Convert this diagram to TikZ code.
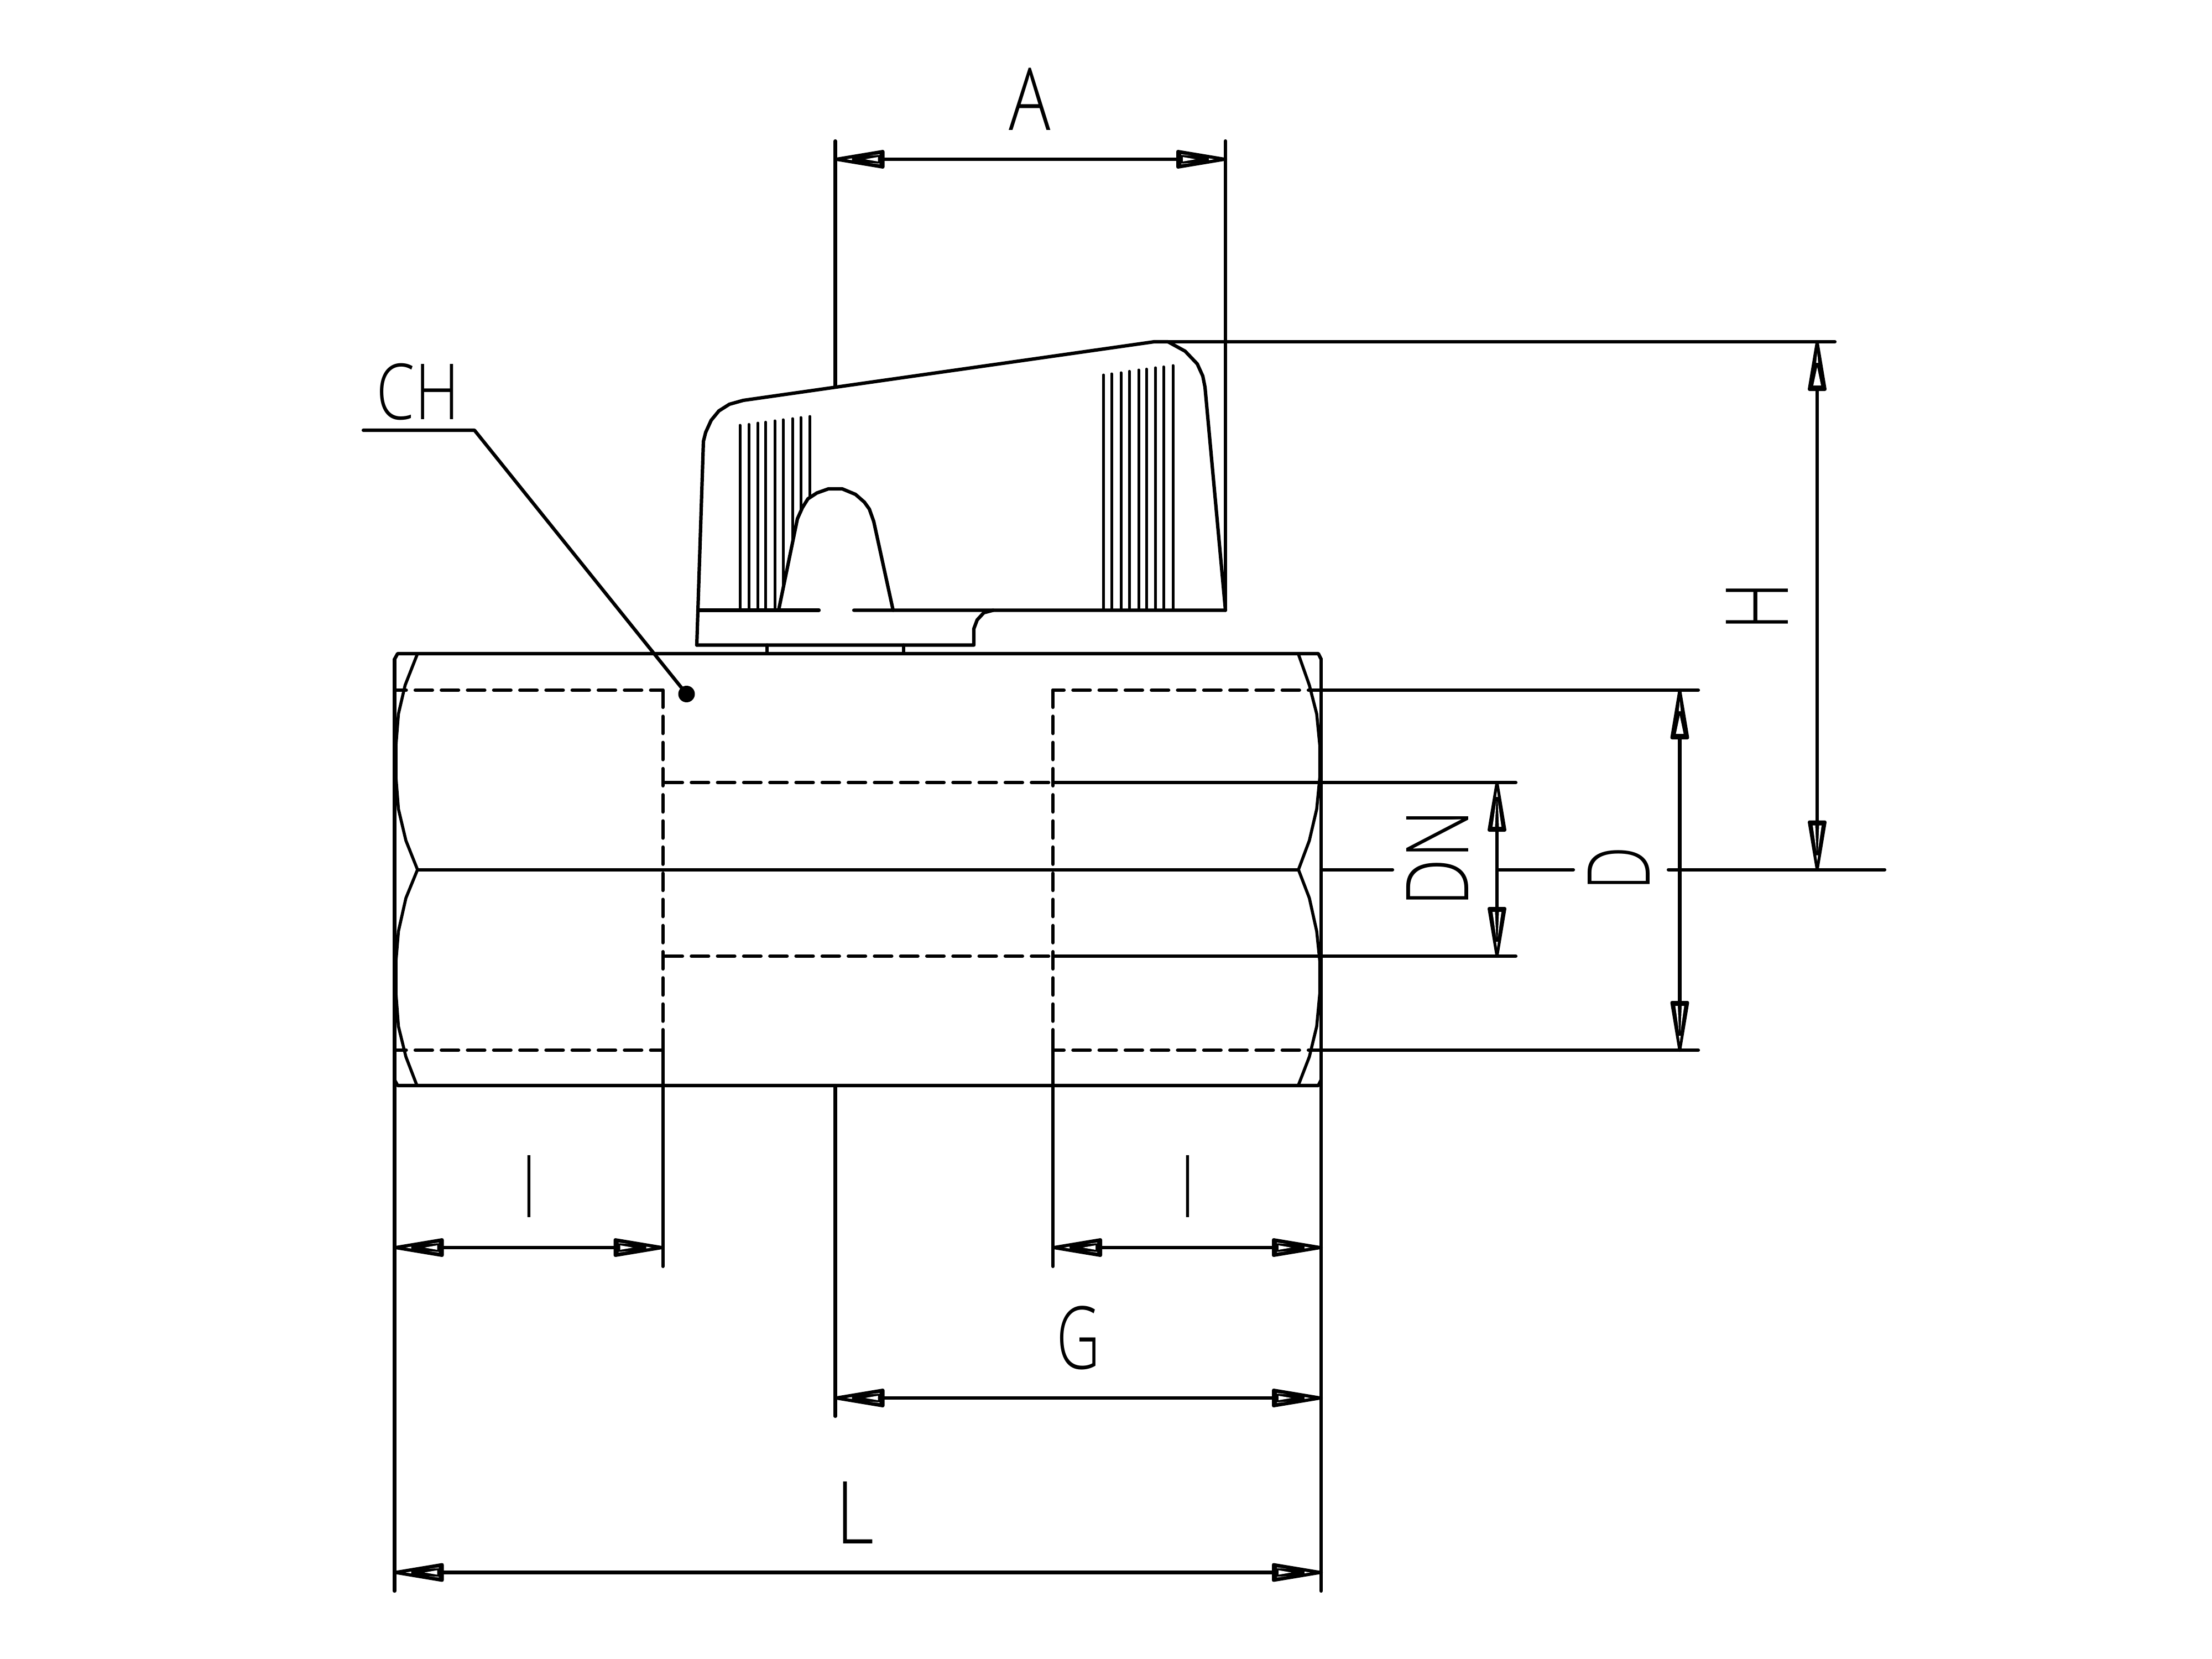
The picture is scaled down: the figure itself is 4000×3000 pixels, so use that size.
\documentclass[tikz,border=0pt]{standalone}
\usepackage{graphicx}
\usepackage{fontspec}
\newfontfamily\cadfont{Open Sans}[UprightFont=* Light]
\tikzset{
  cad/.style={line width=6.2pt,line cap=round,line join=round,black},
  hid/.style={cad,dash pattern=on 31pt off 16.3pt},
  cadlabel/.style={inner sep=0pt,outer sep=0pt,font=\cadfont\fontsize{157}{157}\selectfont},
  cadsmall/.style={inner sep=0pt,outer sep=0pt,font=\cadfont\fontsize{140}{140}\selectfont},
  tipA/.pic={
    \filldraw[line width=6pt,line join=round,black] (-2,0)--(-86,-14)--(-86,14)--cycle;
    \fill[white] (-77,-4)--(-77,4)--(-54,0)--cycle;
    \fill[white] (-30,-1.6)--(-30,1.6)--(-20,0)--cycle;
    \fill[white] (-80,-9)--(-80,-7.8)--(-62,-6.8)--cycle;
    \fill[white] (-80,9)--(-80,7.8)--(-62,6.8)--cycle;
  },
  tipB/.pic={
    \filldraw[line width=6pt,line join=round,black] (-2,0)--(-86,-14)--(-86,14)--cycle;
    \fill[white] (-79,-7)--(-79,7)--(-46,0)--cycle;
    \fill[white] (-38,-1.8)--(-38,1.8)--(-20,0)--cycle;
  },
  tipC/.pic={
    \filldraw[line width=6pt,line join=round,black] (-2,0)--(-86,-14)--(-86,14)--cycle;
    \fill[white] (-80,-8)--(-80,-3.5)--(-34,-1.5)--cycle;
    \fill[white] (-80,8)--(-80,3.5)--(-34,1.5)--cycle;
    \fill[white] (-26,-1.6)--(-26,1.6)--(-15,0)--cycle;
  },
}
\begin{document}
\begin{tikzpicture}[x=1pt,y=-1pt]
\useasboundingbox (0,0) rectangle (4000,3000);
\fill[white] (0,0) rectangle (4000,3000);
% key points
\coordinate (cL) at (755,1572.6);
\coordinate (cR) at (2348,1572.6);
\coordinate (aL) at (1510.5,288);
\coordinate (aR) at (2216,288);
\coordinate (hT) at (3286,618);
\coordinate (hB) at (3286,1572.6);
\coordinate (dT) at (3037.5,1248);
\coordinate (dB) at (3037.5,1899);
\coordinate (nT) at (2707,1415);
\coordinate (nB) at (2707,1729);
\coordinate (i1L) at (713.5,2256);
\coordinate (i1R) at (1198.6,2256);
\coordinate (i2L) at (1904,2256);
\coordinate (i2R) at (2389,2256);
\coordinate (gL) at (1510.5,2528);
\coordinate (gR) at (2389,2528);
\coordinate (lL) at (713.5,2843.5);
\coordinate (lR) at (2389,2843.5);
\coordinate (chA) at (657,778);
\coordinate (chB) at (858,778);
\coordinate (chC) at (1241.5,1255);
% handle
\draw[cad] (1260,1166.5)--(1272,798)--(1276,782)--(1286,760)--(1300,743)--(1319,731)--(1344,724)
  --(2087,618)--(2112,618)--(2143,635)--(2165,658)--(2175,680)--(2179,700)--(2216,1103.5)--(1544,1103.5);
\draw[cad] (1481,1103.5)--(1263,1103.5);
\draw[cad] (1260,1166.5)--(1761,1166.5)--(1761,1137)--(1767,1121)--(1779,1108)--(1796,1103.5);
\draw[cad] (1387,1166.5)--(1387,1181) (1634,1166.5)--(1634,1181);
% dome
\draw[cad] (1408,1103.5)--(1442,938)--(1451,918)--(1461,902)--(1477,891.5)--(1498,884)--(1523,884)--(1547,894)--(1563,908)--(1572,920.5)--(1580,943)--(1615,1103.5);
% ribs
\draw[cad,line width=5pt]
  (1338,769)--(1338,1103.5) (1354,767.4)--(1354,1103.5) (1370.5,765)--(1370.5,1103.5)
  (1384.5,763.4)--(1384.5,1103.5) (1401,761)--(1401,1103.5) (1416,759)--(1416,1066)
  (1433,757)--(1433,983) (1448,755)--(1448,925) (1464.5,753)--(1464.5,900);
\draw[cad,line width=5pt]
  (1995.5,678)--(1995.5,1103.5) (2010,676)--(2010,1103.5) (2027,674)--(2027,1103.5)
  (2042,671.4)--(2042,1103.5) (2059,669)--(2059,1103.5) (2073,667.4)--(2073,1103.5)
  (2089.5,665)--(2089.5,1103.5) (2104,663.4)--(2104,1103.5) (2121,661)--(2121,1103.5);
% body
\draw[cad] (713.5,1192)--(719,1182)--(2384,1182)--(2389,1192);
\draw[cad] (713.5,1953)--(719,1963)--(2384,1963)--(2389,1953);
\draw[cad] (713.5,1192)--(713.5,2877);
\draw[cad] (2389,1192)--(2389,2877);
\draw[cad] (cL)--(cR);
% hex arcs
\draw[cad,line width=5.5pt] (755,1182)--(732.6,1239)--(720.5,1291)--(716,1348)--(716,1405.5)--(720.5,1463)--(734,1520)--(cL)
  --(734,1624)--(720.5,1684)--(716,1738.5)--(716,1796)--(720.5,1856)--(734,1911)--(754,1963);
\draw[cad,line width=5.5pt] (2347.6,1182)--(2367.7,1239)--(2381,1291)--(2386.6,1348)--(2386.6,1405.5)--(2381,1463)--(2367.7,1520)--(cR)
  --(2367.7,1624)--(2381,1684)--(2386.6,1738.5)--(2386.6,1796)--(2381,1856)--(2367.7,1911)--(2347.6,1963);
% hidden lines
\draw[hid,dash phase=9pt] (1198.6,1248)--(713.5,1248);
\draw[hid,dash phase=9pt] (1198.6,1899)--(713.5,1899);
\draw[hid] (1198.6,1248)--(1198.6,1862);
\draw[cad] (1198.6,1862)--(i1R)--(1198.6,2290);
\draw[hid] (1904,1248)--(1904,1862);
\draw[cad] (1904,1862)--(i2L)--(1904,2290);
\draw[hid,dash phase=11pt] (1904,1248)--(2389,1248);
\draw[hid,dash phase=11pt] (1904,1899)--(2389,1899);
\draw[cad] (2389,1248)--(3071,1248);
\draw[cad] (2389,1899)--(3071,1899);
\draw[hid] (1203,1415)--(1904,1415);
\draw[hid] (1203,1729)--(1904,1729);
\draw[cad] (1904,1415)--(2741,1415);
\draw[cad] (1904,1729)--(2741,1729);
% centre line pieces
\draw[cad] (2389,1572.6)--(2518,1572.6);
\draw[cad] (2709,1572.6)--(2845,1572.6);
\draw[cad] (3017,1572.6)--(3408,1572.6);
% extension lines
\draw[cad] (aL |- 0,255)--(1510.5,698);
\draw[cad] (aR |- 0,255)--(2216,1103.5);
\draw[cad] (2112,618)--(3318,618);
\draw[cad] (1510.5,1963)--(1510.5,2561);
% dimension lines
\draw[cad] (aL)--(aR);
\pic[rotate=180] at (aL) {tipA}; \pic at (aR) {tipA};
\draw[cad] (hT)--(hB);
\pic[rotate=90] at (hT) {tipB}; \pic[rotate=-90] at (hB) {tipC};
\draw[cad] (dT)--(dB);
\pic[rotate=90] at (dT) {tipB}; \pic[rotate=-90] at (dB) {tipC};
\draw[cad] (nT)--(nB);
\pic[rotate=90] at (nT) {tipC}; \pic[rotate=-90] at (nB) {tipC};
\draw[cad] (i1L)--(i1R);
\pic[rotate=180] at (i1L) {tipA}; \pic at (i1R) {tipA};
\draw[cad] (i2L)--(i2R);
\pic[rotate=180] at (i2L) {tipA}; \pic at (i2R) {tipA};
\draw[cad] (gL)--(gR);
\pic[rotate=180] at (gL) {tipA}; \pic at (gR) {tipA};
\draw[cad] (lL)--(lR);
\pic[rotate=180] at (lL) {tipA}; \pic at (lR) {tipA};
% leader
\draw[cad] (chA)--(chB)--(chC);
\fill[black] (chC) circle[radius=15];
% labels
\node[cadlabel] (tA) at (1862,179) {\scalebox{.8}[1]{A}};
\node[cadsmall] (tCH) at (756,708) {\scalebox{.8}[1]{CH}};
\node[cadlabel,rotate=90] (tH) at (3177,1096) {\scalebox{.78}[1]{H}};
\node[cadlabel,rotate=90] (tDN) at (2599,1552) {\scalebox{.78}[1]{DN}};
\node[cadlabel,rotate=90] (tD) at (2927,1571) {\scalebox{.72}[1]{D}};
\node[cadlabel] (tI1) at (957,2145) {\scalebox{.68}[1]{I}};
\node[cadlabel] (tI2) at (2148,2145) {\scalebox{.68}[1]{I}};
\node[cadlabel] (tG) at (1950,2419) {\scalebox{.7}[1]{G}};
\node[cadlabel] (tL) at (1546,2735) {\scalebox{.86}[1]{L}};
\end{tikzpicture}
\end{document}
